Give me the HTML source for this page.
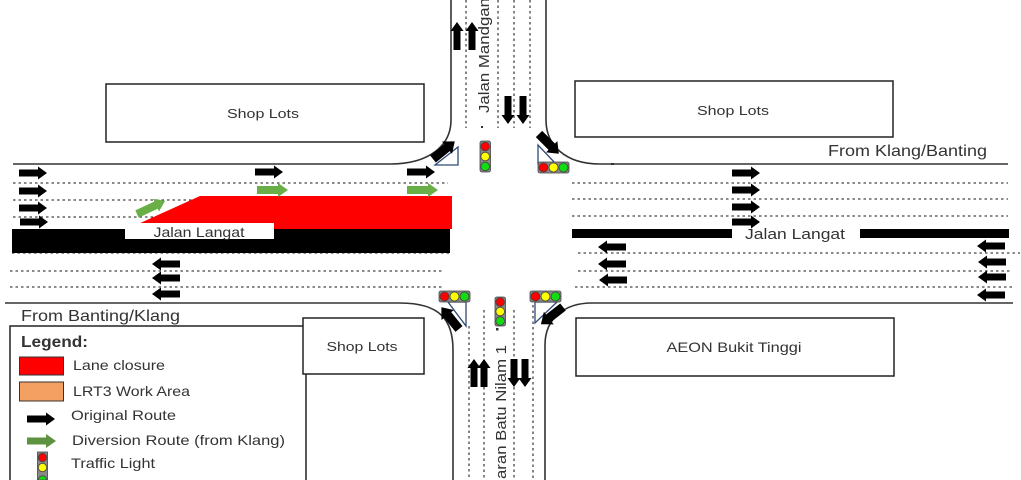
<!DOCTYPE html>
<html><head><meta charset="utf-8"><style>
html,body{margin:0;padding:0;background:#fff;width:1021px;height:480px;overflow:hidden;}
svg{display:block;}
text{font-family:"Liberation Sans",sans-serif;fill:#333;}
</style></head><body>
<svg width="1021" height="480" viewBox="0 0 1021 480" xmlns="http://www.w3.org/2000/svg">
<defs>
<path id="ba" d="M0,-3.5 H19 V-6.5 L28,0 L19,6.5 V3.5 H0 Z" fill="#000"/>
<path id="ga" d="M0,-4 H21 V-7 L31,0 L21,7 V4 H0 Z" fill="#6AAE48"/>
<path id="da" d="M0,-4.5 H18 V-8 L28,0 L18,8 V4.5 H0 Z" fill="#000"/>
<clipPath id="frame"><rect x="0" y="0" width="1021" height="480"/></clipPath>
</defs>
<rect width="1021" height="480" fill="#fff"/>
<g clip-path="url(#frame)">

<!-- dotted lane lines -->
<g stroke="#444" stroke-width="1.3" stroke-dasharray="2.5 3" fill="none">
<line x1="13" y1="183" x2="448" y2="183"/>
<line x1="13" y1="200" x2="448" y2="200"/>
<line x1="13" y1="217" x2="448" y2="217"/>
<line x1="12" y1="253" x2="450" y2="253"/>
<line x1="10" y1="271" x2="443" y2="271"/>
<line x1="10" y1="287" x2="443" y2="287"/>
<line x1="572" y1="183" x2="1008" y2="183"/>
<line x1="572" y1="199" x2="1008" y2="199"/>
<line x1="572" y1="216" x2="1008" y2="216"/>
<line x1="578" y1="253" x2="1020" y2="253"/>
<line x1="578" y1="271" x2="1012" y2="271"/>
<line x1="575" y1="287" x2="1012" y2="287"/>
<line x1="466" y1="0" x2="466" y2="128"/>
<line x1="498" y1="0" x2="498" y2="128"/>
<line x1="514" y1="0" x2="514" y2="128"/>
<line x1="530" y1="0" x2="530" y2="128"/>
<line x1="469" y1="326" x2="469" y2="480"/>
<line x1="484" y1="310" x2="484" y2="480"/>
<line x1="514" y1="310" x2="514" y2="480"/>
<line x1="533" y1="305" x2="533" y2="480"/>
</g>
<rect x="481" y="126" width="2" height="2" fill="#333"/>
<rect x="496" y="328" width="2.5" height="2.5" fill="#333"/>

<!-- road edges -->
<g stroke="#333" stroke-width="1.6" fill="none">
<path d="M13,164 H390 C430,164 451,145 451,120 V0"/>
<path d="M546,0 V120 C546,145 565,164 600,164 H1008"/>
<path d="M5,303 H400 C440,303 453,320 453,350 V480"/>
<path d="M1013,303 H592 C565,303 545,318 545,345 V480"/>
</g>
<rect x="611" y="163" width="3" height="2" fill="#333"/>

<!-- boxes -->
<g stroke="#222" stroke-width="1.5" fill="#fff">
<rect x="106" y="84" width="318" height="58"/>
<rect x="575" y="81" width="318" height="56"/>
<path d="M10,480 V326 H306 V480"/>
<rect x="303" y="318" width="121" height="56"/>
<rect x="576" y="318" width="318" height="58"/>
</g>
<text x="263" y="118" font-size="13" text-anchor="middle" textLength="72" lengthAdjust="spacingAndGlyphs">Shop Lots</text>
<text x="733" y="115" font-size="13" text-anchor="middle" textLength="72" lengthAdjust="spacingAndGlyphs">Shop Lots</text>
<text x="362" y="351" font-size="13" text-anchor="middle" textLength="71" lengthAdjust="spacingAndGlyphs">Shop Lots</text>
<text x="734" y="352" font-size="14" text-anchor="middle" textLength="135" lengthAdjust="spacingAndGlyphs">AEON Bukit Tinggi</text>

<!-- west closure -->
<polygon points="127,229 200,196 452,196 452,229" fill="#FF0000"/>
<rect x="12" y="229" width="438" height="24" fill="#000"/>
<rect x="125" y="223" width="149" height="16" fill="#fff"/>
<text x="199" y="237" font-size="14" text-anchor="middle" textLength="91" lengthAdjust="spacingAndGlyphs">Jalan Langat</text>

<!-- east median -->
<rect x="572" y="229" width="160" height="9" fill="#000"/>
<rect x="860" y="229" width="149" height="9" fill="#000"/>
<text x="795" y="239" font-size="15" text-anchor="middle" textLength="100" lengthAdjust="spacingAndGlyphs">Jalan Langat</text>

<!-- labels -->
<text x="828" y="156" font-size="16" textLength="159" lengthAdjust="spacingAndGlyphs">From Klang/Banting</text>
<text x="21" y="321" font-size="16" textLength="159" lengthAdjust="spacingAndGlyphs">From Banting/Klang</text>
<text transform="translate(489,113) rotate(-90)" font-size="15" textLength="115" lengthAdjust="spacingAndGlyphs">Jalan Mandgan</text>
<text transform="translate(506,345) rotate(-90)" font-size="15" text-anchor="end" textLength="134" lengthAdjust="spacingAndGlyphs">aran Batu Nilam 1</text>

<!-- west arrows -->
<use href="#ba" transform="translate(19,173)"/>
<use href="#ba" transform="translate(19,191)"/>
<use href="#ba" transform="translate(19,208)"/>
<use href="#ba" transform="translate(20,222)"/>
<use href="#ba" transform="translate(255,172)"/>
<use href="#ba" transform="translate(407,172)"/>
<use href="#ga" transform="translate(257,190)"/>
<use href="#ga" transform="translate(407,190)"/>
<use href="#ga" transform="translate(137,214) rotate(-25)"/>
<use href="#ba" transform="translate(180,264) rotate(180)"/>
<use href="#ba" transform="translate(180,278) rotate(180)"/>
<use href="#ba" transform="translate(180,294) rotate(180)"/>

<!-- east arrows -->
<use href="#ba" transform="translate(732,173)"/>
<use href="#ba" transform="translate(732,190)"/>
<use href="#ba" transform="translate(732,207)"/>
<use href="#ba" transform="translate(732,222)"/>
<use href="#ba" transform="translate(626,247) rotate(180)"/>
<use href="#ba" transform="translate(626,264) rotate(180)"/>
<use href="#ba" transform="translate(627,280) rotate(180)"/>
<use href="#ba" transform="translate(1005,246) rotate(180)"/>
<use href="#ba" transform="translate(1006,262) rotate(180)"/>
<use href="#ba" transform="translate(1006,277) rotate(180)"/>
<use href="#ba" transform="translate(1005,295) rotate(180)"/>

<!-- north arrows -->
<use href="#ba" transform="translate(457,50) rotate(-90)"/>
<use href="#ba" transform="translate(472,50) rotate(-90)"/>
<use href="#ba" transform="translate(508,96) rotate(90)"/>
<use href="#ba" transform="translate(523,96) rotate(90)"/>

<!-- south arrows -->
<use href="#ba" transform="translate(474,387) rotate(-90)"/>
<use href="#ba" transform="translate(484,387) rotate(-90)"/>
<use href="#ba" transform="translate(514,359) rotate(90)"/>
<use href="#ba" transform="translate(525,359) rotate(90)"/>

<!-- triangles -->
<g stroke="#2F4A7A" stroke-width="1.3" fill="none">
<polygon points="458,147 458,165 435,165"/>
<polygon points="538,145 538,164 556,164"/>
<polygon points="448,302 466,302 466,326"/>
<polygon points="535,302 557,302 535,323"/>
</g>

<!-- diagonal arrows -->
<use href="#da" transform="translate(433,159) rotate(-39)"/>
<use href="#da" transform="translate(539,134) rotate(45)"/>
<use href="#da" transform="translate(459,329) rotate(-129)"/>
<use href="#da" transform="translate(563,307) rotate(142)"/>

<!-- traffic lights -->
<g stroke="#444" stroke-width="0.8">
<rect x="480" y="141" width="10.5" height="31" rx="2" fill="#888"/>
<circle cx="485.2" cy="146.5" r="4.3" fill="#f00"/>
<circle cx="485.2" cy="156.5" r="4.3" fill="#ff0"/>
<circle cx="485.2" cy="166.5" r="4.3" fill="#1d1"/>

<rect x="495" y="297" width="10.5" height="29" rx="2" fill="#888"/>
<circle cx="500.2" cy="302" r="4.3" fill="#f00"/>
<circle cx="500.2" cy="311.5" r="4.3" fill="#ff0"/>
<circle cx="500.2" cy="321" r="4.3" fill="#1d1"/>

<rect x="538" y="162" width="31" height="11" rx="2" fill="#888"/>
<circle cx="543.5" cy="167.5" r="4.5" fill="#f00"/>
<circle cx="553.5" cy="167.5" r="4.5" fill="#ff0"/>
<circle cx="563.5" cy="167.5" r="4.5" fill="#1d1"/>

<rect x="439" y="291" width="31" height="11" rx="2" fill="#888"/>
<circle cx="444.5" cy="296.5" r="4.5" fill="#f00"/>
<circle cx="454.5" cy="296.5" r="4.5" fill="#ff0"/>
<circle cx="464.5" cy="296.5" r="4.5" fill="#1d1"/>

<rect x="530" y="291" width="31" height="11" rx="2" fill="#888"/>
<circle cx="535.5" cy="296.5" r="4.5" fill="#f00"/>
<circle cx="545.5" cy="296.5" r="4.5" fill="#ff0"/>
<circle cx="555.5" cy="296.5" r="4.5" fill="#1d1"/>

<rect x="37.5" y="452" width="10" height="28" fill="#888"/>
<circle cx="42.5" cy="457.5" r="4.2" fill="#f00"/>
<circle cx="42.5" cy="467.5" r="4.2" fill="#ff0"/>
<path d="M38.3,480 A4.2,4.2 0 0 1 46.7,480 Z" fill="#1d1"/>
</g>

<!-- legend -->
<text x="21" y="347" font-size="16" font-weight="bold" fill="#222" textLength="67" lengthAdjust="spacingAndGlyphs">Legend:</text>
<rect x="19.5" y="357" width="44" height="18" fill="#FF0000" stroke="#333" stroke-width="1"/>
<text x="73" y="370" font-size="14" textLength="92" lengthAdjust="spacingAndGlyphs">Lane closure</text>
<rect x="19.5" y="382" width="44" height="19" fill="#F4A062" stroke="#333" stroke-width="1"/>
<text x="73" y="396" font-size="14" textLength="117" lengthAdjust="spacingAndGlyphs">LRT3 Work Area</text>
<use href="#ba" transform="translate(27,419)"/>
<text x="71" y="420" font-size="14" textLength="105" lengthAdjust="spacingAndGlyphs">Original Route</text>
<path d="M27,437.5 H46 V434 L56,441 L46,448 V444.5 H27 Z" fill="#5E9140"/>
<text x="72" y="445" font-size="14" textLength="213" lengthAdjust="spacingAndGlyphs">Diversion Route (from Klang)</text>
<text x="71" y="468" font-size="14" textLength="84" lengthAdjust="spacingAndGlyphs">Traffic Light</text>
</g>
</svg>
</body></html>
